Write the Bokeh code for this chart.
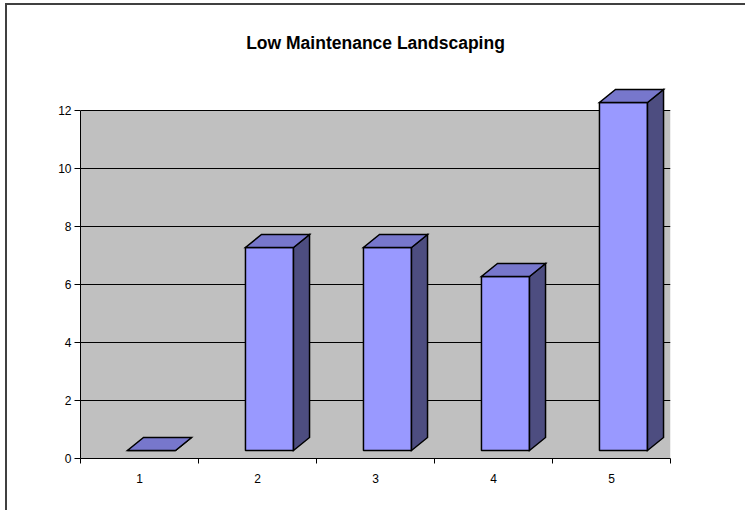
from bokeh.plotting import figure
from bokeh.models import FixedTicker, ColumnDataSource, InlineStyleSheet
from bokeh.embed import file_html
from bokeh.resources import INLINE

# ---- data ----
categories = [1, 2, 3, 4, 5]
values = [0, 7, 7, 6, 12]
y_ticks = [0, 2, 4, 6, 8, 10, 12]
title_text = "Low Maintenance Landscaping"

# ---- geometry constants (in data units) ----
FL, FR = -0.102, 0.305      # front face left/right offsets from category
DX, DY = 0.136, 0.448       # depth offset
BASE = 0.276                # front base lift

FRONT = "#9999FF"
TOP = "#7777CC"
SIDE = "#4D4D80"
WALL = "#C0C0C0"
FONT = "Liberation Sans"

p = figure(width=745, height=510, x_range=(0.5, 5.5), y_range=(0, 13),
           output_backend="svg", toolbar_location=None,
           min_border_left=80, min_border_right=75,
           min_border_top=81, min_border_bottom=52)
p.stylesheets = [InlineStyleSheet(css=(
    ":host { position: relative; } "
    ":host::after { content: ''; position: absolute; left: 5px; top: 3px; "
    "right: 0; bottom: 0; border-left: 2px solid #404040; "
    "border-top: 2px solid #404040; pointer-events: none; z-index: 10; }"))]
p.title.text = title_text
p.title.align = "center"
p.title.text_font = FONT
p.title.text_font_size = "17.5px"
p.title.text_font_style = "bold"
p.title.text_color = "black"
p.title.standoff = 58
p.background_fill_color = "white"
p.border_fill_color = "white"
p.outline_line_color = None
p.xgrid.visible = False
p.ygrid.visible = False

# back wall
p.quad(left=[0.5], right=[5.5], bottom=[0], top=[max(y_ticks)],
       fill_color=WALL, line_color=None)
# gridlines
p.segment(x0=[0.5] * (len(y_ticks) - 1), x1=[5.5] * (len(y_ticks) - 1),
          y0=y_ticks[1:], y1=y_ticks[1:], line_color="black", line_width=1)

# bars
front_src = dict(l=[], r=[], b=[], t=[])
top_xs, top_ys, side_xs, side_ys = [], [], [], []
for c, v in zip(categories, values):
    l, r = c + FL, c + FR
    b, t = BASE, BASE + v
    front_src["l"].append(l); front_src["r"].append(r)
    front_src["b"].append(b); front_src["t"].append(t)
    top_xs.append([l, r, r + DX, l + DX])
    top_ys.append([t, t, t + DY, t + DY])
    side_xs.append([r, r + DX, r + DX, r])
    side_ys.append([b, b + DY, t + DY, t])

p.quad(left="l", right="r", bottom="b", top="t", source=ColumnDataSource(front_src),
       fill_color=FRONT, line_color="black", line_width=1.5)
p.patches(side_xs, side_ys, fill_color=SIDE, line_color="black", line_width=1.5,
          line_join="miter")
p.patches(top_xs, top_ys, fill_color=TOP, line_color="black", line_width=1.5,
          line_join="miter")

# y axis
ya = p.yaxis[0]
ya.ticker = FixedTicker(ticks=y_ticks)
ya.bounds = (0, max(y_ticks))
ya.axis_line_color = "black"
ya.major_tick_line_color = "black"
ya.major_tick_out = 6
ya.major_tick_in = 0
ya.minor_tick_line_color = None
ya.major_label_standoff = 3
ya.major_label_text_font = FONT
ya.major_label_text_font_size = "12px"
ya.major_label_text_color = "black"

# x axis
xa = p.xaxis[0]
xa.ticker = FixedTicker(ticks=categories, minor_ticks=[c - 0.5 for c in categories] + [categories[-1] + 0.5])
xa.bounds = (0.5, 5.5)
xa.axis_line_color = "black"
xa.major_tick_line_color = None
xa.major_tick_out = 0
xa.major_tick_in = 0
xa.minor_tick_line_color = "black"
xa.minor_tick_out = 5
xa.minor_tick_in = 0
xa.major_label_standoff = 10
xa.major_label_text_font = FONT
xa.major_label_text_font_size = "12px"
xa.major_label_text_color = "black"
xa.major_label_overrides = {c: str(c) for c in categories}

open("out.html", "w").write(file_html(p, INLINE))
